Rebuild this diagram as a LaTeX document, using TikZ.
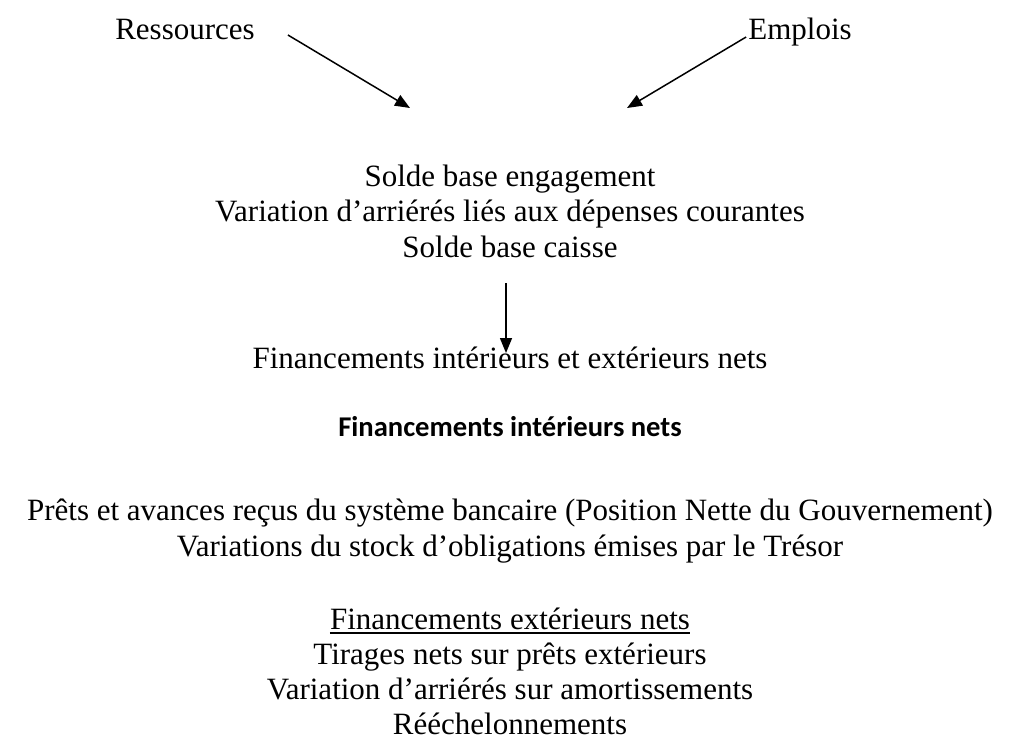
\documentclass[tikz,border=0pt]{standalone}
\usepackage{fontspec}
\setmainfont{Liberation Serif}
\newfontfamily\headfont{Carlito}
\usetikzlibrary{arrows.meta,calc}
\begin{document}
\begin{tikzpicture}[x=1pt,y=-1pt,
  txt/.style={inner sep=0pt, anchor=base, font=\fontsize{31}{36}\selectfont},
  hdr/.style={inner sep=0pt, anchor=base, font=\headfont\bfseries\fontsize{28.6}{34}\selectfont},
  link/.style={line width=1.5pt, -{Triangle[length=15pt,width=12pt]}},
  uline/.style={line width=1.6pt}]
\useasboundingbox (0,0) rectangle (1012,740);

% top sources
\node[txt] (res) at (185,39) {Ressources};
\node[txt] (emp) at (800,39) {Emplois};
\coordinate (t1) at (410,108);
\coordinate (t2) at (627,108);
\coordinate (s1) at ($(res.base east)+(33,-4)$);
\coordinate (s2) at ($(emp.base west)+(-2,-2)$);
\draw[link] (s1) -- (t1);
\draw[link] (s2) -- (t2);

% balances
\node[txt] (sbe) at (510,186) {Solde base engagement};
\node[txt] (var) at (510,221.5) {Variation d’arriérés liés aux dépenses courantes};
\node[txt] (sbc) at (510,257) {Solde base caisse};

\node[txt] (fin) at (510,368) {Financements intérieurs et extérieurs nets};
\coordinate (v1) at (506,283);
\coordinate (v2) at (506,353);
\draw[link] (v1) -- (v2);

% domestic financing
\node[hdr] (fint) at (510,436) {Financements intérieurs nets};
\node[txt] (pre) at (510,520.5) {Prêts et avances reçus du système bancaire (Position Nette du Gouvernement)};
\node[txt] (obl) at (510,556) {Variations du stock d’obligations émises par le Trésor};

% external financing
\node[txt] (fext) at (510,629) {Financements extérieurs nets};
\draw[uline] ($(fext.base west)+(0,4)$) -- ($(fext.base east)+(0,4)$);
\node[txt] (tir) at (510,664.5) {Tirages nets sur prêts extérieurs};
\node[txt] (amo) at (510,699.5) {Variation d’arriérés sur amortissements};
\node[txt] (ree) at (510,734.5) {Rééchelonnements};
\end{tikzpicture}
\end{document}
